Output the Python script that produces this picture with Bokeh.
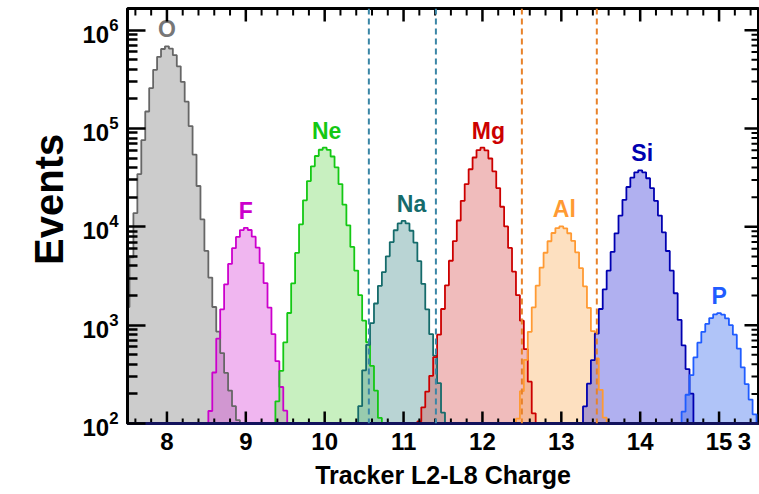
import numpy as np
from bokeh.plotting import figure
from bokeh.models import (Range1d, FixedTicker, Span, ColumnDataSource)
from bokeh.embed import file_html
from bokeh.resources import INLINE
from bokeh.core.properties import value

# ---------------- data ----------------
BIN = 0.05                     # histogram bin width in charge units
elements = ["O", "F", "Ne", "Na", "Mg", "Al", "Si", "P"]
charges = [8, 9, 10, 11, 12, 13, 14, 15]
first_bin = [7.50, 8.55, 9.40, 10.45, 11.20, 12.45, 13.30, 14.55]   # centre of first bin

O_counts = [1530, 4880, 13800, 34400, 76000, 148800, 257600, 395000, 536000, 643000,
            684000, 649000, 556000, 429000, 298500, 187300, 105900, 54300, 26000, 11900,
            5690, 3050, 1530, 860, 520, 327, 216, 150, 108]
F_counts = [134, 330, 730, 1450, 2600, 4190, 6070, 7900, 9270, 9770,
            9280, 7940, 6130, 4270, 2680, 1510, 810, 430, 235, 135]
Ne_counts = [168, 343, 668, 1330, 2660, 5430, 10600, 18600, 29200, 41200, 52500, 60800,
             63800, 60700, 51900, 40300, 27200, 16800, 10350, 6240, 3590, 2020, 1110,
             670, 385, 216, 114]
Na_counts = [150, 347, 631, 1050, 1660, 2510, 3470, 5010, 7000, 9230, 10840,
             11480, 10840, 9120, 6920, 4470, 2630, 1450, 810, 490, 257, 129]
Mg_counts = [105, 146, 211, 305, 473, 800, 1460, 2540, 4520, 7160, 11600, 18400, 27200,
             38500, 50700, 60300, 63800, 59800, 49500, 36700, 24800, 16000, 10100, 6100,
             3510, 2020, 1110, 570, 266, 127]
Al_counts = [112, 213, 444, 855, 1520, 2520, 3850, 5450, 7130, 8650, 9700,
             10100, 9650, 8600, 7200, 5500, 3800, 2480, 1500, 870, 460, 220, 115]
Si_counts = [149, 254, 441, 820, 1460, 2310, 3580, 5550, 8590, 13000, 18800, 25400,
             31600, 35800, 37500, 35800, 31200, 24800, 18400, 13000, 8790, 5680, 3580,
             2110, 1130, 622, 358, 201]
P_counts = [132, 196, 310, 470, 664, 855, 1030, 1180, 1290, 1325,
            1280, 1170, 1000, 800, 578, 373, 252, 175, 124]
all_counts = [O_counts, F_counts, Ne_counts, Na_counts, Mg_counts, Al_counts, Si_counts, P_counts]

na_cuts = [10.56, 11.41]
al_cuts = [12.50, 13.45]

y_decades = [1e2, 1e3, 1e4, 1e5, 1e6]
x_title = "Tracker L2-L8 Charge"
y_title = "Events"
page_number = "3"
page_number_x = 15.32         # where the slide's page number sits, in charge units
X_MIN, X_MAX = 7.5, 15.5
Y_MIN, Y_MAX = 100, 1.66e6

# ---------------- styles ----------------
line_colors = ["#666666", "#cc00cc", "#14c814", "#156b6b", "#cc0000", "#ff9a33", "#0000b0", "#1f5cff"]
fill_colors = ["#808080", "#d948d9", "#75d961", "#509393", "#d95757", "#fab161", "#3939d9", "#396bed"]
label_colors = ["#777777", "#cc00cc", "#14c814", "#156b6b", "#cc0000", "#ff9a33", "#0000b0", "#1f5cff"]
label_dx = [0, 0, 2, 8, 6, 3, 2, 0]   # pixel nudges of the element labels
BASE = 50.0

p = figure(width=759, height=494, x_range=Range1d(X_MIN, X_MAX), y_range=Range1d(Y_MIN, Y_MAX),
           y_axis_type="log", output_backend="svg", toolbar_location=None,
           min_border_left=127, min_border_right=1, min_border_top=8, min_border_bottom=71)
p.xgrid.visible = False
p.ygrid.visible = False
p.outline_line_color = "black"
p.outline_line_width = 3
p.background_fill_color = "white"
p.border_fill_color = "white"


def step_outline(first, counts):
    left = first - BIN / 2
    xs, ys = [left], [BASE]
    for i, c in enumerate(counts):
        a = left + i * BIN
        xs += [a, a + BIN]
        ys += [c, c]
    xs.append(left + len(counts) * BIN)
    ys.append(BASE)
    return xs, ys

outlines = [step_outline(f, c) for f, c in zip(first_bin, all_counts)]
for (xs, ys), fc in zip(outlines, fill_colors):
    p.patch(xs, ys, fill_color=fc, fill_alpha=0.4, line_color=None)
for (xs, ys), lc in zip(outlines, line_colors):
    p.line(xs, ys, line_color=lc, line_width=1.8)

for loc in na_cuts:
    p.add_layout(Span(location=loc, dimension="height", line_color="#3a86a6",
                      line_dash="6 4", line_width=2))
for loc in al_cuts:
    p.add_layout(Span(location=loc, dimension="height", line_color="#e8822a",
                      line_dash="6 4", line_width=2))

peaks = [max(c) for c in all_counts]
lab_src = ColumnDataSource(dict(x=charges, y=peaks, text=elements, color=label_colors, dx=label_dx))
p.text(x="x", y="y", text="text", source=lab_src, text_color="color", x_offset="dx", y_offset=-4,
       text_font=value("Liberation Sans"), text_font_style="bold", text_font_size="23px",
       text_align="center", text_baseline="bottom")

# ---------------- axes ----------------
minor_y = [m * d for d in y_decades for m in range(2, 10) if m * d < Y_MAX]
minor_x = [round(X_MIN + 0.1 + 0.2 * i, 2) for i in range(40) if round(X_MIN + 0.1 + 0.2 * i, 2) < X_MAX]
minor_x = [m for m in minor_x if abs(m - round(m)) > 1e-6]

xa = p.xaxis[0]
xa.ticker = FixedTicker(ticks=charges + [page_number_x], minor_ticks=[])
xa.major_label_overrides = {page_number_x: page_number}
xa.major_tick_in = 0
xa.major_tick_out = 0
xa.minor_tick_in = 0
xa.minor_tick_out = 0
xa.major_tick_line_color = None
xa.minor_tick_line_color = None
xa.axis_line_color = "#12125c"
xa.axis_line_width = 3
xa.major_label_text_font = "Liberation Sans"
xa.major_label_text_font_style = "bold"
xa.major_label_text_font_size = "24px"
xa.major_label_text_color = "black"
xa.major_label_standoff = 9
xa.axis_label = x_title
xa.axis_label_text_font = "Liberation Sans"
xa.axis_label_text_font_style = "bold"
xa.axis_label_text_font_size = "25px"
xa.axis_label_text_color = "black"
xa.axis_label_standoff = 8

ya = p.yaxis[0]
ya.ticker = FixedTicker(ticks=y_decades, minor_ticks=minor_y)
ya.major_tick_in = 18
ya.major_tick_out = 0
ya.minor_tick_in = 10
ya.minor_tick_out = 0
ya.major_tick_line_width = 2.5
ya.minor_tick_line_width = 2.5
ya.axis_line_width = 3
ya.major_label_text_font = "Liberation Sans"
ya.major_label_text_font_style = "bold"
ya.major_label_text_font_size = "24px"
ya.major_label_text_color = "black"
ya.major_label_standoff = 9
ya.axis_label = "\u00a0\u00a0\u00a0" + y_title
ya.axis_label_text_font = "Liberation Sans"
ya.axis_label_text_font_style = "bold"
ya.axis_label_text_font_size = "40px"
ya.axis_label_text_color = "black"
ya.axis_label_standoff = 8

# tick marks on the bottom, top and right edges of the frame
p.ray(x=charges, y=[Y_MIN] * len(charges), length=12, length_units="screen",
      angle=np.pi / 2, line_color="black", line_width=2.5)
p.ray(x=minor_x, y=[Y_MIN] * len(minor_x), length=5, length_units="screen",
      angle=np.pi / 2, line_color="black", line_width=2)
p.ray(x=charges, y=[Y_MAX] * len(charges), length=13, length_units="screen",
      angle=-np.pi / 2, line_color="black", line_width=2.5)
p.ray(x=minor_x, y=[Y_MAX] * len(minor_x), length=7, length_units="screen",
      angle=-np.pi / 2, line_color="black", line_width=2)
p.ray(x=[X_MAX] * len(y_decades), y=y_decades, length=14, length_units="screen",
      angle=np.pi, line_color="black", line_width=2.5)
p.ray(x=[X_MAX] * len(minor_y), y=minor_y, length=7, length_units="screen",
      angle=np.pi, line_color="black", line_width=2)

open("out.html", "w").write(file_html(p, INLINE))
